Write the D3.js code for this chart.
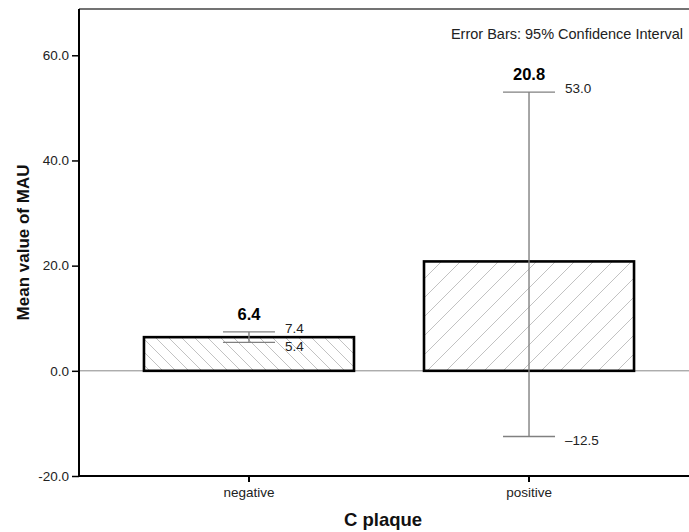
<!DOCTYPE html>
<html>
<head>
<meta charset="utf-8">
<script src="https://cdn.jsdelivr.net/npm/d3@7"></script>
<style>
  html, body { margin: 0; padding: 0; background: #fff; }
  svg { display: block; font-family: "Liberation Sans", Arial, sans-serif; }
</style>
</head>
<body>
<svg id="chart" width="689" height="532"></svg>
<script>
// values
const categories = ['negative', 'positive'];
const means = [6.4, 20.8];
const ciLow = [5.4, -12.5];
const ciHigh = [7.4, 53.0];
const yTicks = [-20, 0, 20, 40, 60];
const hatchDir = ['back', 'fwd'];

const svg = d3.select('#chart');
const plotLeft = 79, plotTop = 9, plotBottom = 476, plotRight = 689;

const x = d3.scaleBand().domain(categories).range([plotLeft, 699]).paddingInner(0.25).paddingOuter(0.232);
const y = d3.scaleLinear().domain([-20, 68.8]).range([plotBottom, plotTop]);

// hatch patterns
const defs = svg.append('defs');
const p1 = defs.append('pattern').attr('id', 'hatch-back').attr('patternUnits', 'userSpaceOnUse')
  .attr('width', 13).attr('height', 13);
p1.append('path').attr('d', 'M0,0 L13,13 M-13,0 L0,13 M13,0 L26,13').attr('stroke', '#bbb').attr('stroke-width', 0.9);
const p2 = defs.append('pattern').attr('id', 'hatch-fwd').attr('patternUnits', 'userSpaceOnUse')
  .attr('width', 19).attr('height', 19);
p2.append('path').attr('d', 'M0,19 L19,0 M-19,19 L0,0 M19,19 L38,0').attr('stroke', '#bbb').attr('stroke-width', 0.9);

// top frame line
svg.append('line').attr('x1', plotLeft).attr('x2', plotRight).attr('y1', plotTop).attr('y2', plotTop)
  .attr('stroke', '#444').attr('stroke-width', 1.6);

// zero line
svg.append('line').attr('x1', plotLeft).attr('x2', plotRight).attr('y1', y(0)).attr('y2', y(0))
  .attr('stroke', '#888').attr('stroke-width', 1);

// bars
const idx = d3.range(categories.length);
svg.append('g').selectAll('rect').data(idx).enter().append('rect')
  .attr('x', i => x(categories[i]))
  .attr('width', x.bandwidth())
  .attr('y', i => y(means[i]))
  .attr('height', i => y(0) - y(means[i]))
  .attr('fill', i => `url(#hatch-${hatchDir[i]})`)
  .attr('stroke', '#000').attr('stroke-width', 2.6);

// error bars
const cap = 26;
const eb = svg.append('g').attr('stroke', '#808080').attr('stroke-width', 1.4);
idx.forEach(i => {
  const cx = x(categories[i]) + x.bandwidth() / 2;
  eb.append('line').attr('x1', cx).attr('x2', cx).attr('y1', y(ciHigh[i])).attr('y2', y(ciLow[i]));
  eb.append('line').attr('x1', cx - cap).attr('x2', cx + cap).attr('y1', y(ciHigh[i])).attr('y2', y(ciHigh[i]));
  eb.append('line').attr('x1', cx - cap).attr('x2', cx + cap).attr('y1', y(ciLow[i])).attr('y2', y(ciLow[i]));
});

// labels
const fmt = v => (v < 0 ? '\u2013' + Math.abs(v).toFixed(1) : v.toFixed(1));
const lab = svg.append('g').attr('fill', '#222');
idx.forEach(i => {
  const cx = x(categories[i]) + x.bandwidth() / 2;
  lab.append('text').attr('x', cx).attr('y', y(ciHigh[i]) - 12).attr('text-anchor', 'middle')
    .attr('font-size', 16.5).attr('font-weight', 'bold').attr('fill', '#000').text(means[i].toFixed(1));
  lab.append('text').attr('x', cx + cap + 10).attr('y', y(ciHigh[i]) - 4).attr('dy', '0.35em')
    .attr('font-size', 13.5).text(fmt(ciHigh[i]));
  lab.append('text').attr('x', cx + cap + 10).attr('y', y(ciLow[i]) + 4).attr('dy', '0.35em')
    .attr('font-size', 13.5).text(fmt(ciLow[i]));
});

// y axis
const yAxis = svg.append('g').attr('transform', `translate(${plotLeft},0)`)
  .call(d3.axisLeft(y).tickValues(yTicks).tickFormat(d => d.toFixed(1)).tickSize(7).tickPadding(3));
yAxis.select('.domain').attr('d', `M0,${plotTop}V${plotBottom}`).attr('stroke', '#000').attr('stroke-width', 2);
yAxis.selectAll('.tick line').attr('stroke', '#000').attr('stroke-width', 1.5);
yAxis.selectAll('.tick text').attr('font-size', 13.5).attr('fill', '#222').attr('font-family', '"Liberation Sans", Arial, sans-serif');

// x axis
const xAxis = svg.append('g').attr('transform', `translate(0,${plotBottom})`)
  .call(d3.axisBottom(x).tickSize(6).tickPadding(5));
xAxis.select('.domain').attr('d', `M${plotLeft},0H${plotRight}`).attr('stroke', '#000').attr('stroke-width', 2);
xAxis.selectAll('.tick line').attr('stroke', '#000').attr('stroke-width', 2);
xAxis.selectAll('.tick text').attr('font-size', 13.5).attr('fill', '#222').attr('font-family', '"Liberation Sans", Arial, sans-serif');

// titles
svg.append('text').attr('x', 683).attr('y', 39).attr('text-anchor', 'end')
  .attr('font-size', 14.5).attr('fill', '#222').text('Error Bars: 95% Confidence Interval');
svg.append('text').attr('transform', `translate(29,${(plotTop + plotBottom) / 2}) rotate(-90)`)
  .attr('text-anchor', 'middle').attr('font-size', 17).attr('font-weight', 'bold').attr('fill', '#111')
  .text('Mean value of MAU');
svg.append('text').attr('x', 383).attr('y', 526).attr('text-anchor', 'middle')
  .attr('font-size', 18.5).attr('font-weight', 'bold').attr('fill', '#111').text('C plaque');
</script>
</body>
</html>
